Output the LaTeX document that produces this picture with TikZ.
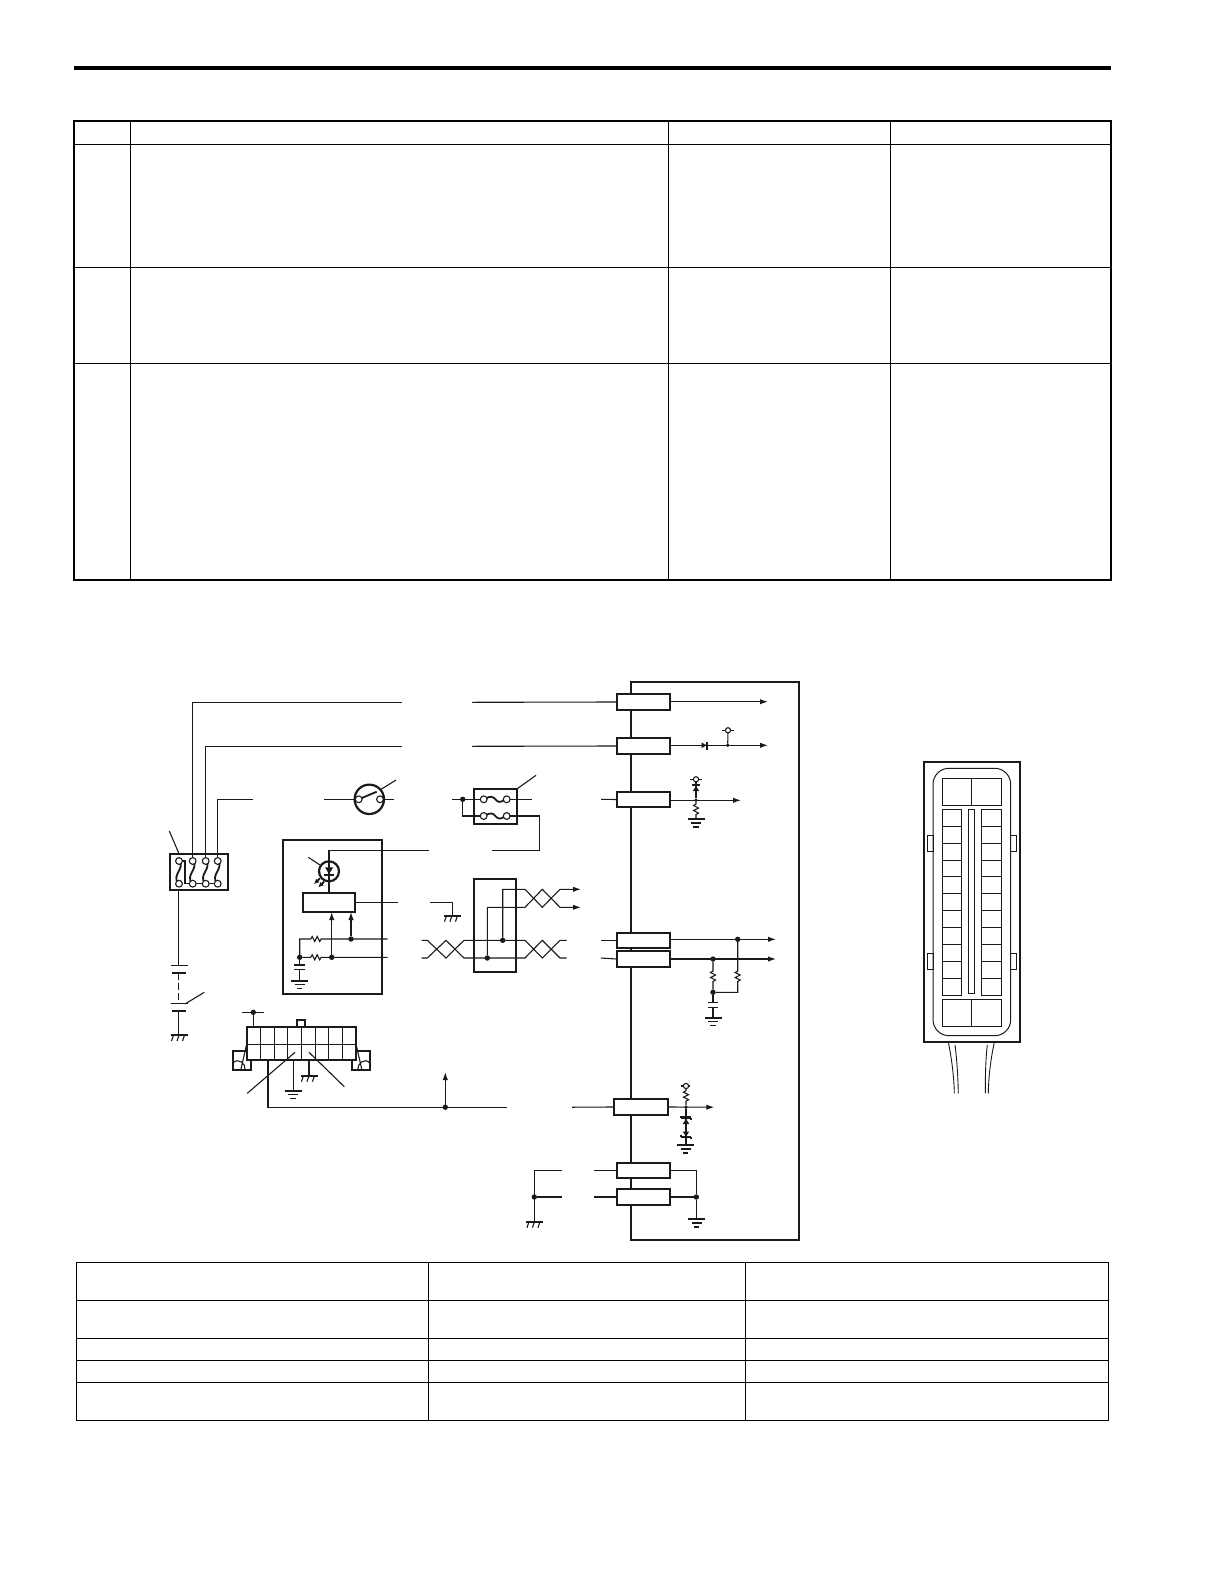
\documentclass[tikz,border=0pt]{standalone}
\usetikzlibrary{arrows.meta}
\definecolor{ink}{HTML}{1A1A1A}
\tikzset{
  wire/.style={draw=ink,line width=0.55pt,line join=miter},
  heavy/.style={draw=ink,line width=1.1pt},
  rulel/.style={draw=black,line width=0.6pt},
  rulehv/.style={draw=black,line width=1.05pt},
  conbox/.style={draw=ink,line width=1.1pt,fill=white,inner sep=0pt,outer sep=0pt,minimum width=26.8pt},
  junction/.style={circle,fill=ink,inner sep=0pt,outer sep=0pt,minimum size=2.7pt},
  smalljunction/.style={circle,fill=ink,inner sep=0pt,outer sep=0pt,minimum size=1.9pt},
  terminal/.style={circle,draw=ink,line width=0.55pt,fill=white,inner sep=0pt,outer sep=0pt,minimum size=3.4pt},
  tipwire/.style={wire,-{Latex[length=4pt,width=2.7pt]}},
  fuseline/.style={draw=ink,line width=0.9pt},
  cell/.style={draw=ink,line width=0.5pt}
}
\newcommand\zigh{-- ++(1.5,-2.5) -- ++(2.5,5) -- ++(2.5,-5) -- ++(2.5,5) -- ++(1.5,-2.5)}
\newcommand\zigv{-- ++(-2.5,1.5) -- ++(5,2.5) -- ++(-5,2.5) -- ++(5,2.5) -- ++(-2.5,1.5)}
\newcommand\gndsym[2]{\begin{scope}[shift={(#1,#2)}]
  \draw[heavy] (-8.5,0)--(8.5,0);
  \draw[wire] (-5,4)--(5,4) (-2.7,8)--(2.7,8);
\end{scope}}
\newcommand\chassis[2]{\begin{scope}[shift={(#1,#2)}]
  \draw[heavy] (-8.5,0)--(8.5,0);
  \draw[wire] (-5.5,0)--(-7.5,6) (0,0)--(-2,6) (5.5,0)--(3.5,6);
\end{scope}}
\newcommand\vfuse[1]{\draw[fuseline] (#1+1,862) .. controls (#1+5,869) and (#1-7,875) .. (#1-1,883);}
\newcommand\hfuse[1]{\draw[fuseline] (485,#1) .. controls (497,#1-9) and (494,#1+9) .. (505,#1);}
\begin{document}
\begin{tikzpicture}[x=0.5pt,y=-0.5pt]
\useasboundingbox (0,0) rectangle (1224,1584);
\fill[white] (0,0) rectangle (1224,1584);

% top rule
\fill[black] (74,66) rectangle (1111,70);

% upper table
\draw[rulel] (130.5,121)--(130.5,580) (668.7,121)--(668.7,580) (890.3,121)--(890.3,580);
\draw[rulel] (74,144.3)--(1111,144.3) (74,267.3)--(1111,267.3) (74,363.3)--(1111,363.3);
\draw[rulehv] (74,121) rectangle (1111,580);

% lower table
\draw[rulel] (76.3,1262.3) rectangle (1108.7,1420.3);
\draw[rulel] (428.7,1262.3)--(428.7,1420.3) (745.3,1262.3)--(745.3,1420.3);
\draw[rulel] (76.3,1300.3)--(1108.7,1300.3) (76.3,1338.3)--(1108.7,1338.3) (76.3,1360.3)--(1108.7,1360.3) (76.3,1382.3)--(1108.7,1382.3);

% control module outline
\draw[heavy] (631,682) rectangle (799,1239.7);

% module connector blocks
\node[conbox,minimum height=8pt]    (c1) at (643.5,702) {};
\node[conbox,minimum height=8pt]    (c2) at (643.5,746) {};
\node[conbox,minimum height=7.5pt]  (c3) at (643.5,799.5) {};
\node[conbox,minimum height=7.4pt]  (c4) at (643.5,940.3) {};
\node[conbox,minimum height=7.8pt]  (c5) at (643.5,959) {};
\node[conbox,minimum height=8.3pt,minimum width=27.3pt] (c6) at (641,1107) {};
\node[conbox,minimum height=7.8pt]  (c7) at (643.5,1170.5) {};
\node[conbox,minimum height=8.3pt]  (c8) at (643.5,1197) {};

% fuse box
\node[draw=ink,line width=1.1pt,inner sep=0pt,outer sep=0pt,minimum width=29pt,minimum height=18.2pt] (fusebox) at (199,871.8) {};
\foreach \n/\x in {a/179,b/192.7,c/205.7,d/217.7}{
  \vfuse{\x}
}
\draw[wire] (179,861)--(185,861)--(185,883.7)--(217.7,883.7);
\foreach \n/\x in {a/179,b/192.7,c/205.7,d/217.7}{
  \node[terminal] (ft\n) at (\x,861) {};
  \node[terminal] (fb\n) at (\x,883.7) {};
}
\coordinate (w1e) at (401.7,702.3);
\coordinate (w2e) at (401.7,746.3);
\coordinate (w3e) at (252.7,799.3);
\draw[wire] (ftb.north) -- (192.7,702.3) -- (w1e);
\draw[wire] (ftc.north) -- (205.7,746.3) -- (w2e);
\draw[wire] (ftd.north) -- (217.7,799.3) -- (w3e);
\coordinate (leadf) at (169.3,831);
\draw[wire] (leadf) -- (179,853.7);

% continuation to module
\coordinate (w1r) at (472,702.3);
\coordinate (w2r) at (472,746.3);
\draw[wire] (w1r) -- (c1.west);
\draw[wire] (w2r) -- (c2.west);

% battery and ignition
\coordinate (batt1) at (178.7,965.3);
\draw[wire] (178.7,890) -- (batt1);
\draw[wire] (171,965.3)--(187.7,965.3);
\draw[heavy] (172.3,973)--(186,973);
\draw[wire,dash pattern=on 3.3pt off 1.7pt] (178.7,973)--(178.7,1003.7);
\draw[wire] (171,1003.7)--(187.7,1003.7);
\draw[wire] (185,1004)--(204.3,992.3);
\draw[heavy] (172.3,1011)--(186,1011);
\draw[wire] (178.7,1011)--(178.7,1035);
\chassis{179}{1035}

% key switch
\coordinate (ks1) at (324,799.3);
\coordinate (ks2) at (394,799.3);
\draw[wire] (ks1)--(358.7,799.3) (380,799.3)--(ks2);
\node[circle,draw=ink,line width=1.1pt,inner sep=0pt,outer sep=0pt,minimum size=14.7pt] (keysw) at (369.3,799.3) {};
\node[terminal] (ks3) at (358.7,799.3) {};
\node[terminal] (ks4) at (380,799.3) {};
\draw[wire,line width=0.9pt] (ks3) -- (376.7,791.7);
\draw[wire] (380,790)--(396,780);

% relay box
\node[draw=ink,line width=1.1pt,inner sep=0pt,outer sep=0pt,minimum width=21.5pt,minimum height=17.7pt] (relay) at (495.5,806.3) {};
\coordinate (rl1) at (452.3,799.3);
\coordinate (rl2) at (532,799.3);
\coordinate (rl3) at (601,799.3);
\node[junction] (rj) at (462.7,799.3) {};
\draw[wire] (rl1) -- (483.7,799.3);
\draw[wire] (506.7,799.3) -- (rl2);
\draw[wire] (rj) -- (462.7,816) -- (483.7,816);
\draw[wire] (506.7,816) -- (539.3,816) -- (539.3,850.3) -- (492.3,850.3);
\hfuse{799.3}
\hfuse{816}
\node[terminal] at (483.7,799.3) {};
\node[terminal] at (506.7,799.3) {};
\node[terminal] at (483.7,816) {};
\node[terminal] at (506.7,816) {};
\draw[wire] (517.3,788.7)--(536,775.3);
\draw[wire] (rl3) -- (c3.west);

% sensor module
\node[draw=ink,line width=1.1pt,inner sep=0pt,outer sep=0pt,minimum width=49.5pt,minimum height=76.8pt] (sensor) at (332.5,916.9) {};
\node[draw=ink,line width=1.1pt,inner sep=0pt,outer sep=0pt,minimum width=26.3pt,minimum height=9.5pt] (chip) at (329,902.2) {};
\draw[wire] (chip.north) -- (329,850.7) -- (428.7,850.7);
\node[circle,draw=ink,line width=1.1pt,inner sep=0pt,outer sep=0pt,minimum size=10pt] (led) at (329,871.3) {};
\fill[ink] (325,867.3)--(333.3,867.3)--(329,874)--cycle;
\draw[heavy] (324.3,874.8)--(334,874.8);
\draw[wire] (308.3,857.3)--(320,865);
\draw[ink,line width=1pt,-{Latex[length=2.5pt,width=2.5pt]}] (320,878.3)--(314,884);
\draw[ink,line width=1pt,-{Latex[length=2.5pt,width=2.5pt]}] (324,881.7)--(318.3,887.3);
\draw[wire] (chip.east) -- (398,902.2);
\coordinate (gw) at (430,902.3);
\draw[wire] (gw) -- (452.7,902.3) -- (452.7,915.7);
\chassis{452}{915.7}

\node[junction] (sj1) at (351,939) {};
\node[junction] (sj2) at (331.7,957.3) {};
\node[junction] (sj3) at (299.7,957.3) {};
\draw[wire] (299.7,957.3) -- (299.7,939) -- (310.7,939) \zigh -- (387.7,939);
\draw[wire] (sj3) -- (310.7,957.3) \zigh -- (387.7,957.3);
\draw[tipwire] (sj2) -- (331.7,912);
\draw[tipwire] (sj1) -- (351,912);
\draw[wire] (sj3) -- (299.7,965);
\draw[wire] (294.3,965)--(305,965) (294.3,969.5)--(305,969.5);
\draw[wire] (299.7,969.5)--(299.7,980.7);
\gndsym{299.7}{980.7}

% twisted pairs
\node[draw=ink,line width=1.1pt,inner sep=0pt,outer sep=0pt,minimum width=21pt,minimum height=46.5pt] (hub) at (495,925.5) {};
\node[junction] (hj1) at (502.7,940.3) {};
\node[junction] (hj2) at (487.3,958) {};
\coordinate (t1) at (421.7,940.3);
\coordinate (t2) at (421.7,958);
\coordinate (t3) at (566.7,940.3);
\coordinate (t4) at (566.7,958);
\draw[wire] (t1) -- (427.3,940.3) -- (446,958) -- (464,940.3) -- (525,940.3) -- (542.3,958) -- (560,940.3) -- (t3);
\draw[wire] (t2) -- (427.3,958) -- (446,940.3) -- (464,958) -- (525,958) -- (542.3,940.3) -- (560,958) -- (t4);
\coordinate (up1) at (581,889.3);
\coordinate (up2) at (581,907.3);
\draw[tipwire] (hj1) -- (502.7,889.3) -- (525,889.3) -- (542.3,907.3) -- (560,889.3) -- (up1);
\draw[tipwire] (hj2) -- (487.3,907.3) -- (525,907.3) -- (542.3,889.3) -- (560,907.3) -- (up2);
\coordinate (t5) at (601,940.3);
\coordinate (t6) at (601,958);
\draw[wire] (t5) -- (c4.west);
\draw[wire] (t6) -- (c5.west);

% module internals: outputs
\coordinate (o1) at (768,701.7);
\coordinate (o2) at (768,745.3);
\coordinate (o3) at (741,800.3);
\draw[tipwire] (c1.east |- o1) -- (o1);
\draw[tipwire] (c2.east |- o2) -- (o2);
\fill[ink] (701.7,742.6)--(701.7,748)--(706.6,745.3)--cycle;
\draw[heavy] (707.3,741.5)--(707.3,749.5);
\node[smalljunction] (n2) at (727.7,745.3) {};
\node[terminal,minimum size=2.6pt] (v2) at (728,730.3) {};
\draw[wire] (n2) -- (v2);
\draw[wire] (722,730.3)--(725.5,730.3) (730.5,730.3)--(733.5,730.3);

\draw[tipwire] (c3.east |- o3) -- (o3);
\node[smalljunction] (n3) at (696,800.3) {};
\node[terminal,minimum size=2.6pt] (v3) at (696,779.3) {};
\draw[wire] (690,779.3)--(693.5,779.3) (698.5,779.3)--(701.7,779.3);
\draw[heavy] (692,785)--(700,785);
\fill[ink] (696,786)--(692.8,791)--(699.2,791)--cycle;
\draw[wire] (v3)--(n3);
\draw[wire] (n3) -- (696,804) \zigv -- (696,819);
\gndsym{696}{819}

\node[junction] (n4) at (737.7,939.3) {};
\node[junction] (n5) at (713,959) {};
\node[junction] (n6) at (713,992.3) {};
\coordinate (o4) at (776,939.3);
\coordinate (o5) at (776,959);
\draw[tipwire] (c4.east |- o4) -- (o4);
\draw[tipwire] (c5.east |- o5) -- (o5);
\draw[wire] (n5) -- (713,971) \zigv -- (n6);
\draw[wire] (n4) -- (737.7,971) \zigv -- (737.7,992.3) -- (n6);
\draw[wire] (n6) -- (713,1002.3);
\draw[wire] (708,1002.3)--(717.7,1002.3) (708,1007.3)--(717.7,1007.3);
\draw[wire] (713,1007.3)--(713,1017.7);
\gndsym{713}{1017.7}

% lower connector
\draw[cell] (246.7,1027.3) rectangle (356,1060.3);
\draw[cell] (246.7,1044.3)--(356,1044.3);
\foreach \x in {260.3,274.3,287.7,301.3,315,328.7,342.3}{
  \draw[cell] (\x,1027.3)--(\x,1060.3);
}
\draw[heavy] (246.7,1060.3) -- (246.7,1027.3) -- (356,1027.3) -- (356,1060.3);
\draw[heavy] (246.7,1060.3)--(356,1060.3);
\node[draw=ink,line width=1.1pt,fill=white,inner sep=0pt,outer sep=0pt,minimum width=4.2pt,minimum height=3.5pt] (tab) at (300.8,1023.5) {};
\draw[heavy] (246.7,1051.3) -- (233,1051.3) -- (233,1069.7) -- (251,1069.7) -- (251,1060.3);
\draw[heavy] (356,1051.3) -- (369.7,1051.3) -- (369.7,1069.7) -- (351.7,1069.7) -- (351.7,1060.3);
\draw[wire] (246.7,1044) -- (241,1069) (233,1063) .. controls (238,1057) and (246,1064) .. (245,1069);
\draw[wire] (356,1044) -- (361.7,1069) (369.7,1063) .. controls (365,1057) and (357,1064) .. (358,1069);
\node[junction] (lj) at (253.3,1012.3) {};
\draw[wire] (242.3,1012.3)--(263.7,1012.3);
\draw[wire] (lj) -- (253.3,1027.3);
\draw[wire] (247.3,1093.3)--(295,1052.3);
\draw[wire] (344.3,1086.7)--(309,1052.3);
\draw[wire] (293.7,1060.3)--(293.7,1090.7);
\gndsym{293}{1090.7}
\draw[wire] (309,1060.3)--(309,1075.7);
\chassis{309}{1075.7}
\node[junction] (lnode) at (445.3,1107.2) {};
\coordinate (lend) at (507,1107.2);
\coordinate (lres) at (572,1107.2);
\draw[wire] (268,1060.3) -- (268,1107.2) -- (lend);
\draw[tipwire] (lnode) -- (445.3,1072);
\draw[wire] (lres) -- (c6.west);

% output of c6
\coordinate (o6) at (714.3,1107.2);
\draw[tipwire] (c6.east) -- (o6);
\node[smalljunction] (n7) at (686,1107.2) {};
\node[terminal,minimum size=2.6pt] (v6) at (686,1086) {};
\draw[wire] (681.3,1086)--(684,1086) (688,1086)--(690.3,1086);
\draw[wire] (v6) -- (686,1090.7) \zigv -- (n7);
\draw[wire] (n7) -- (686,1145);
\draw[heavy] (681,1117.5)--(691,1117.5) (681,1137.3)--(691,1137.3);
\draw[wire] (681,1117.5)--(681,1115.5) (691,1117.5)--(691,1119.5) (681,1137.3)--(681,1135.3) (691,1137.3)--(691,1139.3);
\fill[ink] (686,1118.8)--(682.7,1124)--(689.3,1124)--cycle;
\fill[ink] (686,1136.5)--(682.7,1131.5)--(689.3,1131.5)--cycle;
\gndsym{685.5}{1145}

% ground connectors
\coordinate (g1) at (562,1170.5);
\coordinate (g2) at (562,1197);
\coordinate (g3) at (594,1170.5);
\coordinate (g4) at (594,1197);
\node[junction] (gj) at (534.3,1197) {};
\draw[wire] (g1) -- (534.3,1170.5) -- (534.3,1221.7);
\draw[wire] (gj) -- (g2);
\draw[wire] (g3) -- (c7.west);
\draw[wire] (g4) -- (c8.west);
\chassis{534.5}{1221.7}
\node[junction] (rg) at (696.3,1197) {};
\draw[wire] (c7.east) -- (696.3,1170.5) -- (rg);
\draw[wire] (c8.east) -- (rg);
\draw[wire] (rg) -- (696.3,1219);
\gndsym{696.5}{1219}

% connector face view
\draw[heavy] (923.7,762) rectangle (1020,1042.3);
\draw[cell,rounded corners=8pt] (933,768.3) rectangle (1010.7,1035.7);
\draw[cell] (942,778) rectangle (1001.3,805) (971.7,778)--(971.7,805);
\draw[cell] (942,999.3) rectangle (1001.3,1026) (971.7,999.3)--(971.7,1026);
\draw[cell] (942,809.3) rectangle (961.7,995.3);
\draw[cell] (981.7,809.3) rectangle (1001.3,995.3);
\foreach \i in {1,...,10}{
  \pgfmathsetmacro\yy{809.3+\i*16.91}
  \draw[cell] (942,\yy)--(961.7,\yy) (981.7,\yy)--(1001.3,\yy);
}
\draw[cell] (968.3,809.3) rectangle (974.3,993.7);
\draw[cell] (927,835.3) rectangle (933,851.3);
\draw[cell] (927,953.3) rectangle (933,969.3);
\draw[cell] (1010.7,835.3) rectangle (1016.7,851.3);
\draw[cell] (1010.7,953.3) rectangle (1016.7,969.3);
\draw[cell,line width=0.45pt] (948.3,1042.3) .. controls (952,1060) and (954,1078) .. (954.3,1093.3);
\draw[cell,line width=0.45pt] (955,1045) .. controls (957,1060) and (958,1078) .. (958.3,1093.3);
\draw[cell,line width=0.45pt] (994.3,1042.3) .. controls (990.5,1060) and (988.5,1078) .. (988.3,1093.3);
\draw[cell,line width=0.45pt] (987.3,1045) .. controls (985.5,1060) and (985.3,1078) .. (985.3,1093.3);
\end{tikzpicture}
\end{document}
